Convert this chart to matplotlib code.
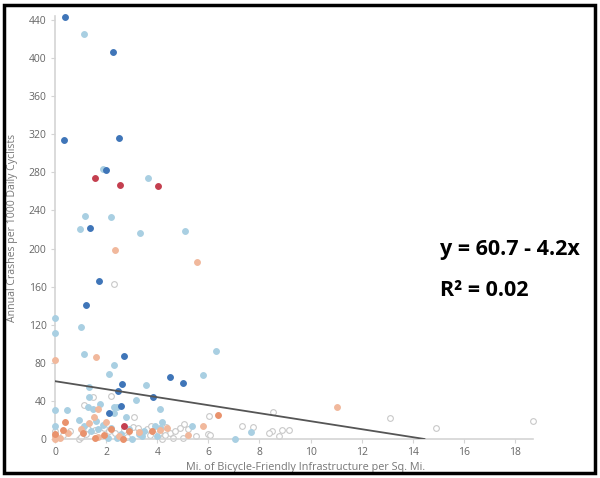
import numpy as np
import matplotlib
matplotlib.use("Agg")
import matplotlib.pyplot as plt
from matplotlib.patches import Rectangle

plt.rcParams["font.family"] = ["Open Sans", "DejaVu Sans"]

# --- data (x = mi. per sq. mi., y = crashes) ---
dark_blue = [(0.39, 443), (2.28, 406), (0.35, 314), (2.49, 316), (1.99, 283), (1.38, 222),
             (1.72, 166), (1.22, 141), (2.68, 87), (4.49, 65), (4.99, 59), (2.64, 58),
             (2.45, 50), (3.82, 44), (2.58, 35), (2.11, 27)]
light_blue = [(1.13, 425), (1.86, 284), (3.62, 274), (1.17, 234), (2.19, 233), (0.98, 221),
              (3.33, 216), (5.08, 218), (0, 127), (0, 111), (1.0, 118), (1.13, 89),
              (2.29, 78), (6.3, 92), (2.11, 68), (5.78, 67), (3.57, 57), (1.32, 55),
              (1.32, 44), (3.16, 41), (0, 30), (0.46, 30), (1.29, 34), (1.76, 37),
              (1.5, 31), (2.3, 34), (2.42, 34), (4.11, 31), (2.29, 27), (2.77, 23),
              (0.92, 20), (1.61, 19), (4.18, 18), (0, 14), (1.15, 14), (1.86, 15),
              (3.92, 14), (5.36, 14), (7.67, 7), (7.06, 0.5), (2.07, 1), (2.41, 1),
              (3.3, 5), (3.5, 8), (4.1, 12), (2.9, 10), (1.7, 10), (2.2, 12), (3.0, 0.5),
              (1.4, 8), (4.0, 3), (3.4, 3), (2.6, 5)]
salmon = [(2.36, 199), (5.57, 186), (1.6, 86), (0, 83), (1.7, 31), (1.54, 23), (1.32, 17),
          (2.0, 18), (5.78, 14), (11.03, 34), (0, 0), (0, 3), (0.5, 6), (1.0, 10), (1.7, 2),
          (2.5, 3), (3.3, 7), (4.1, 9), (5.2, 4), (4.4, 12), (0.2, 1)]
orange = [(6.37, 25), (0.4, 17.5), (1.9, 4), (2.9, 8), (1.1, 6), (0, 5), (3.8, 8),
          (2.2, 11), (0.3, 9), (1.55, 1), (2.65, 0.5)]
red = [(1.56, 274), (2.55, 267), (4.01, 266), (2.7, 14)]
open_pts = [(2.3, 163), (1.47, 44), (2.2, 45), (1.15, 36), (3.1, 23), (6.04, 24), (8.53, 28),
            (5.03, 16), (7.32, 14), (7.75, 13), (4.9, 11.5), (5.2, 11), (8.47, 8), (8.87, 9),
            (9.17, 9), (8.37, 6), (8.78, 3), (0.92, 0), (4.2, 0.5), (5.98, 5.5), (6.05, 4),
            (13.11, 22), (14.92, 12), (18.71, 19), (0, 8), (0.3, 4), (0.6, 8), (1.0, 2),
            (1.3, 11), (1.55, 9), (1.9, 12), (2.35, 6), (2.7, 9), (3.05, 13), (3.25, 12),
            (3.6, 10), (3.75, 14), (4.05, 6), (4.35, 13), (4.5, 6), (4.7, 8), (5.5, 3),
            (4.6, 1), (3.7, 4), (2.8, 2), (2.1, 8), (1.2, 5), (5.0, 1), (4.3, 4)]

intercept = 60.7
slope = -4.2
x_ticks = list(range(0, 19, 2))
y_ticks = list(range(0, 441, 40))

fig = plt.figure(figsize=(6, 4.78), dpi=100)
ax = fig.add_axes([0.0917, 0.0816, 0.7966, 0.8845])

def draw(pts, face, edge, z=3):
    xs, ys = zip(*pts)
    ax.scatter(xs, ys, s=17, c=face, edgecolors=edge, linewidths=0.8, zorder=z, clip_on=False)

draw(open_pts, "white", "#c8c8c8", 2)
draw(light_blue, "#a9cfe2", "#a9cfe2")
draw(salmon, "#f1b89c", "#f1b89c")
draw(orange, "#e9926c", "#e9926c")
draw(dark_blue, "#3f75b8", "#3f75b8", 4)
draw(red, "#c43f4f", "#c43f4f", 4)

# regression line, drawn until it reaches zero
x_end = -intercept / slope
xl = np.array([0, x_end])
ax.plot(xl, intercept + slope * xl, color="#555555", lw=1.3, zorder=5)

ax.set_xlim(0, 18.7)
ax.set_ylim(0, 444)
ax.set_xticks(x_ticks)
ax.set_yticks(y_ticks)
for s in ["top", "right"]:
    ax.spines[s].set_visible(False)
for s in ["left", "bottom"]:
    ax.spines[s].set_color("#d4d4d4")
    ax.spines[s].set_linewidth(1.2)
ax.tick_params(colors="#d4d4d4", labelcolor="#666666", labelsize=7.5, length=3, pad=3)
ax.set_xlabel("Mi. of Bicycle-Friendly Infrastructure per Sq. Mi.", fontsize=7.8,
              color="#777777", labelpad=2)
ax.xaxis.set_label_coords(0.525, -0.055)
ax.set_ylabel("Annual Crashes per 1000 Daily Cyclists", fontsize=7.6, color="#777777",
              labelpad=8)

fig.text(0.733, 0.477, "y = 60.7 - 4.2x", fontsize=15.5, fontweight="bold", va="center")
fig.text(0.733, 0.393, "R² = 0.02", fontsize=15.5, fontweight="bold", va="center")

fig.patches.append(Rectangle((0.006, 0.011), 0.985, 0.978, transform=fig.transFigure,
                             fill=False, edgecolor="black", linewidth=2.5))

fig.savefig("out.png", dpi=100)
